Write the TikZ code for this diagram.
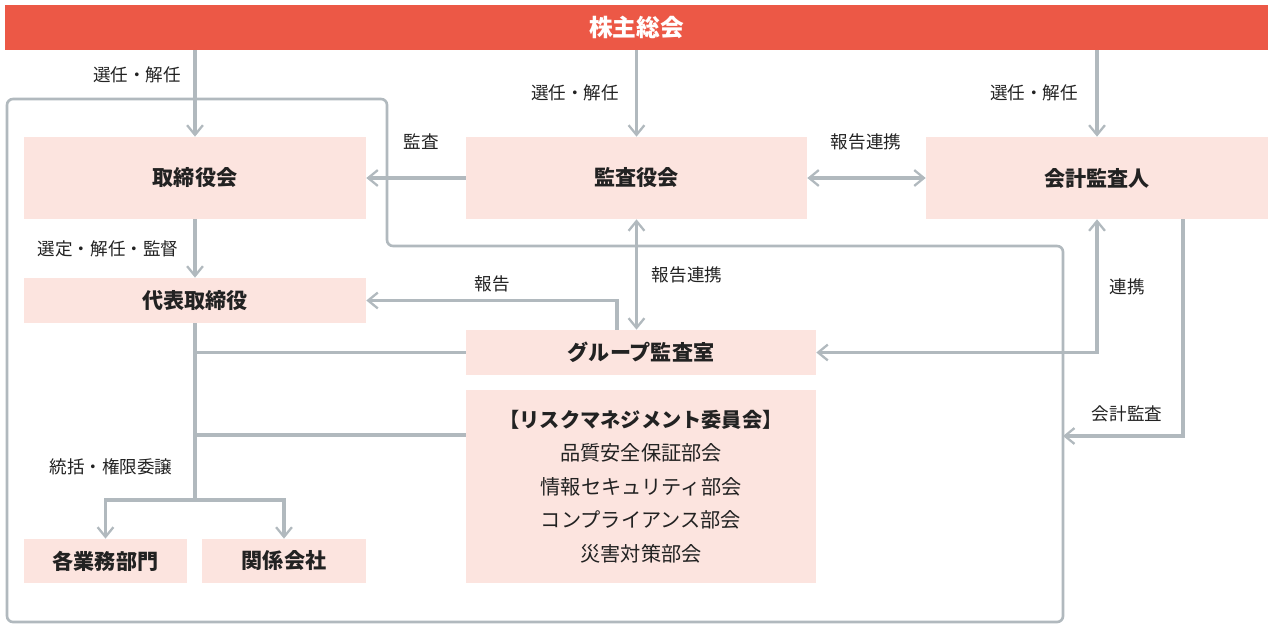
\documentclass[tikz,border=0pt]{standalone}
\usepackage{fontspec}
\setmainfont{Noto Sans CJK JP}
\usetikzlibrary{arrows.meta}
\definecolor{barred}{HTML}{EC5846}
\definecolor{boxpink}{HTML}{FCE4DF}
\definecolor{linegray}{HTML}{B1B9BE}
\definecolor{txt}{HTML}{222222}
\begin{document}
	\begin{tikzpicture}[
		x=0.02cm,
		y=-0.02cm,
		box/.style={fill=boxpink,inner sep=0pt,text=txt,font=\fontsize{12}{14}\selectfont\bfseries},
		conn/.style={draw=linegray,line width=1.9pt},
		arr/.style={conn,-{Straight Barb[length=5.5pt,width=9pt,line width=1.3pt]}},
		dbl/.style={conn,{Straight Barb[length=5.5pt,width=9pt,line width=1.3pt]}-{Straight Barb[length=5.5pt,width=9pt,line width=1.3pt]}},
		lbl/.style={text=txt,inner sep=0pt,font=\fontsize{10}{12}\selectfont},
	]
		\useasboundingbox (0,0) rectangle (1273,628);
		
		\node[fill=barred,text=white,inner sep=0pt,minimum width=25.26cm,minimum height=0.9cm,font=\fontsize{13.5}{16}\selectfont\bfseries] (meeting) at (636.5,27.5) {株主総会};
		
		\draw[draw=linegray,line width=1.5pt,rounded corners=0.12cm] (387,246) -- (387,99) -- (7,99) -- (7,622) -- (1063,622) -- (1063,246) -- cycle;
		
		\node[box,minimum width=6.84cm,minimum height=1.64cm] (board) at (195,178) {取締役会};
		\node[box,minimum width=6.82cm,minimum height=1.64cm] (kansa) at (636.5,178) {監査役会};
		\node[box,minimum width=6.84cm,minimum height=1.64cm] (auditor) at (1097,178) {会計監査人};
		\node[box,minimum width=6.84cm,minimum height=0.9cm] (rep) at (195,300.5) {代表取締役};
		\node[box,minimum width=7cm,minimum height=0.9cm] (group) at (641,352.5) {グループ監査室};
		\node[box,minimum width=7cm,minimum height=3.86cm,align=center,font=\fontsize{11.5}{19}\selectfont] (risk) at (641,486.5) {{\bfseries 【リスクマネジメント委員会】}\\品質安全保証部会\\情報セキュリティ部会\\コンプライアンス部会\\災害対策部会};
		\node[box,minimum width=3.26cm,minimum height=0.88cm] (dept) at (105.5,561) {各業務部門};
		\node[box,minimum width=3.28cm,minimum height=0.88cm] (affil) at (284,561) {関係会社};
		
		\coordinate (split) at (195,500);
		\coordinate (riskin) at (466,435);
		\coordinate (frameR) at (1063,436);
		
		\foreach \n in {board,kansa,auditor}{
			\draw[arr] (meeting.south -| \n.north) -- (\n.north);
		}
		\draw[arr] (kansa.west) -- (board.east);
		\draw[dbl] (kansa.east) -- (auditor.west);
		\draw[arr] (board.south) -- (rep.north);
		\draw[dbl] (kansa.south) -- (kansa.south |- group.north);
		\draw[arr] ([xshift=-0.48cm]group.north) |- (rep.east);
		\draw[dbl] (group.east) -| (auditor.south);
		\draw[arr] ([xshift=1.72cm]auditor.south) |- (frameR);
		
		\draw[conn] (rep.south) -- (split);
		\draw[conn] (rep.south |- group.west) -- (group.west);
		\draw[conn] (rep.south |- riskin) -- (riskin);
		\draw[arr] (split) -| (dept.north);
		\draw[arr] (split) -| (affil.north);
		
		\foreach \x/\y in {137/75, 575/93, 1034/93}{
			\node[lbl] at (\x,\y) {選任・解任};
		}
		\node[lbl] (l-audit) at (421,142) {監査};
		\node[lbl] (l-coop) at (866,142) {報告連携};
		\node[lbl] (l-select) at (108,249) {選定・解任・監督};
		\node[lbl] (l-report) at (492,284) {報告};
		\node[lbl] (l-coop2) at (687,275) {報告連携};
		\node[lbl] (l-link) at (1127,287) {連携};
		\node[lbl] (l-acc) at (1127,414) {会計監査};
		\node[lbl] (l-deleg) at (111,467) {統括・権限委譲};
	\end{tikzpicture}
\end{document}
